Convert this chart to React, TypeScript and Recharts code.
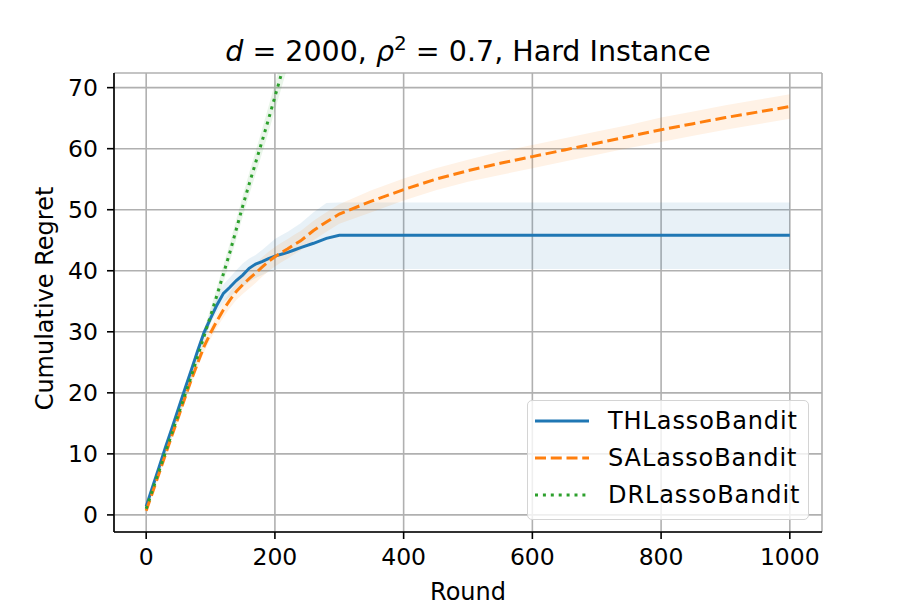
import {
  ComposedChart,
  Line,
  Area,
  XAxis,
  YAxis,
  CartesianGrid,
  Legend,
  Label,
} from "recharts";

const rounds = [
  0, 10, 20, 30, 40, 50, 60, 70, 80, 90, 100, 110, 120, 130, 140, 150, 160,
  170, 180, 190, 200, 210, 220, 230, 240, 260, 280, 300, 350, 400, 450, 500,
  550, 600, 650, 700, 750, 800, 850, 900, 950, 1000,
];

// THLassoBandit
const thMean = [
  1.4, 4.6, 7.8, 11.1, 14.2, 17.4, 20.6, 23.7, 26.9, 29.9, 32.2, 34.4, 36.3,
  37.3, 38.4, 39.3, 40.4, 41.1, 41.5, 42.0, 42.4, 42.7, 43.0, 43.4, 43.8, 44.5,
  45.3, 45.8, 45.8, 45.8, 45.8, 45.8, 45.8, 45.8, 45.8, 45.8, 45.8, 45.8, 45.8,
  45.8, 45.8, 45.8,
];
const thLow = [
  1.0, 4.2, 7.4, 10.7, 13.8, 17.0, 20.1, 23.2, 26.3, 29.2, 31.3, 33.2, 34.8,
  35.7, 36.6, 37.4, 38.2, 38.8, 39.3, 39.8, 40.2, 40.3, 40.3, 40.3, 40.3, 40.3,
  40.3, 40.3, 40.3, 40.3, 40.3, 40.3, 40.3, 40.3, 40.3, 40.3, 40.3, 40.3, 40.3,
  40.3, 40.3, 40.3,
];
const thHigh = [
  1.8, 5.0, 8.2, 11.5, 14.6, 17.8, 21.1, 24.2, 27.5, 30.6, 33.1, 35.6, 37.8,
  38.9, 40.1, 41.2, 42.0, 42.6, 43.4, 44.3, 45.2, 45.8, 46.4, 47.1, 47.8, 49.6,
  51.1, 51.2, 51.2, 51.2, 51.2, 51.2, 51.2, 51.2, 51.2, 51.2, 51.2, 51.2, 51.2,
  51.2, 51.2, 51.2,
];

// SALassoBandit
const saMean = [
  0.7, 3.7, 6.8, 9.9, 13.0, 16.0, 19.1, 22.1, 24.9, 27.6, 29.8, 31.8, 33.6,
  35.2, 36.6, 37.7, 38.7, 39.6, 40.6, 41.5, 42.3, 43.0, 43.6, 44.3, 44.9, 46.6,
  48.0, 49.3, 51.4, 53.3, 55.0, 56.4, 57.6, 58.7, 59.8, 60.9, 62.0, 63.1, 64.1,
  65.1, 66.0, 66.9,
];
const saLow = [
  0.5, 3.4, 6.5, 9.5, 12.6, 15.5, 18.5, 21.4, 24.1, 26.7, 28.8, 30.7, 32.4,
  33.9, 35.2, 36.2, 37.1, 38.0, 39.0, 39.9, 40.7, 41.4, 42.0, 42.7, 43.3, 45.0,
  46.4, 47.7, 49.6, 51.5, 53.2, 54.6, 55.7, 56.8, 57.9, 59.0, 60.1, 61.1, 62.1,
  63.1, 64.0, 64.9,
];
const saHigh = [
  0.9, 4.0, 7.1, 10.3, 13.4, 16.5, 19.7, 22.8, 25.7, 28.5, 30.8, 32.9, 34.8,
  36.5, 38.0, 39.2, 40.3, 41.2, 42.2, 43.1, 43.9, 44.6, 45.2, 45.9, 46.5, 48.2,
  49.6, 50.9, 53.2, 55.1, 56.8, 58.2, 59.5, 60.6, 61.7, 62.8, 63.9, 65.1, 66.1,
  67.1, 68.0, 68.9,
];

// DRLassoBandit (leaves the plot around round 210)
const drMean = [
  1.0, 4.1, 7.2, 10.3, 13.4, 16.5, 19.6, 22.7, 26.0, 29.3, 32.6, 36.0, 39.5,
  43.0, 46.8, 50.6, 54.2, 57.7, 61.2, 64.8, 68.5, 72.2, 75.9, 79.6,
];
const drLow = [
  0.8, 3.8, 6.8, 9.8, 12.8, 15.8, 18.8, 21.8, 25.0, 28.2, 31.4, 34.7, 38.1,
  41.5, 45.2, 48.9, 52.4, 55.8, 59.2, 62.7, 66.3, 69.9, 73.5, 77.1,
];
const drHigh = [
  1.2, 4.4, 7.6, 10.8, 14.0, 17.2, 20.4, 23.6, 27.0, 30.4, 33.8, 37.3, 40.9,
  44.5, 48.4, 52.3, 56.0, 59.6, 63.2, 66.9, 70.7, 74.5, 78.3, 82.1,
];

const xTicks = [0, 200, 400, 600, 800, 1000];
const yTicks = [0, 10, 20, 30, 40, 50, 60, 70];

const rows = rounds.map((r, i) => ({
  round: r,
  th: thMean[i],
  thBand: [thLow[i], thHigh[i]],
  sa: saMean[i],
  saBand: [saLow[i], saHigh[i]],
  dr: drMean[i] ?? null,
  drBand: drMean[i] == null ? null : [drLow[i], drHigh[i]],
}));

const SERIES = [
  { key: "th", name: "THLassoBandit", color: "#1f77b4", dash: undefined },
  { key: "sa", name: "SALassoBandit", color: "#ff7f0e", dash: "11 4.75" },
  { key: "dr", name: "DRLassoBandit", color: "#2ca02c", dash: "3 4.9" },
];

const FONT = "DejaVu Sans, sans-serif";
const X_DOMAIN = [-50, 1050];
const Y_DOMAIN = [-2.8, 72.4];

function LegendBox() {
  return (
    <div
      style={{
        border: "1.6px solid #d4d4d4",
        borderRadius: 5,
        background: "rgba(255,255,255,0.8)",
        width: 282,
        height: 120,
        padding: "1px 0 0 7px",
        boxSizing: "border-box",
        fontFamily: FONT,
        fontSize: 24,
        letterSpacing: 0.9,
        color: "#000",
      }}
    >
      {SERIES.map((s) => (
        <div
          key={s.key}
          style={{ display: "flex", alignItems: "center", height: 37 }}
        >
          <svg width={54} height={10} style={{ marginRight: 19 }}>
            <line
              x1={0}
              y1={5}
              x2={54}
              y2={5}
              stroke={s.color}
              strokeWidth={3}
              strokeDasharray={s.dash}
            />
          </svg>
          <span>{s.name}</span>
        </div>
      ))}
    </div>
  );
}

export default function App() {
  const tickStyle = { fill: "#000", fontSize: 23.5, fontFamily: FONT };
  return (
    <div
      style={{
        position: "absolute",
        left: 0,
        top: 0,
        width: 913,
        height: 609,
        background: "#fff",
      }}
    >
      <svg
        width={913}
        height={70}
        style={{ position: "absolute", left: 0, top: 0 }}
      >
        <text
          x={468}
          y={61}
          textAnchor="middle"
          fontFamily={FONT}
          fontSize={28.5}
          fill="#000"
        >
          <tspan fontStyle="italic">d</tspan>
          <tspan> = 2000, </tspan>
          <tspan fontStyle="italic">ρ</tspan>
          <tspan dy={-11} fontSize={20}>
            2
          </tspan>
          <tspan dy={11}> = 0.7, Hard Instance</tspan>
        </text>
      </svg>
      <ComposedChart
        width={913}
        height={609}
        data={rows}
        margin={{ top: 73, right: 91, bottom: 0, left: 0 }}
        style={{ position: "absolute", left: 0, top: 0 }}
      >
        <CartesianGrid stroke="#b0b0b0" strokeWidth={1.6} />
        <XAxis
          dataKey="round"
          type="number"
          domain={X_DOMAIN}
          ticks={xTicks}
          height={77}
          tick={tickStyle}
          tickSize={7}
          tickMargin={9}
          tickLine={{ stroke: "#000", strokeWidth: 1.6 }}
          axisLine={{ stroke: "#000", strokeWidth: 1.6 }}
        >
          <Label
            value="Round"
            position="insideBottom"
            offset={9}
            style={{ fill: "#000", fontSize: 24, fontFamily: FONT }}
          />
        </XAxis>
        <XAxis
          xAxisId="top"
          orientation="top"
          dataKey="round"
          type="number"
          domain={X_DOMAIN}
          height={0}
          tick={false}
          tickLine={false}
          axisLine={{ stroke: "#000", strokeWidth: 1.6 }}
        />
        <YAxis
          type="number"
          domain={Y_DOMAIN}
          ticks={yTicks}
          allowDataOverflow
          width={114}
          tick={tickStyle}
          tickSize={7}
          tickMargin={9}
          tickLine={{ stroke: "#000", strokeWidth: 1.6 }}
          axisLine={{ stroke: "#000", strokeWidth: 1.6 }}
        >
          <Label
            content={(props: any) => {
              const vb = props.viewBox || { x: 0, y: 73, height: 459 };
              const cx = vb.x + 53;
              const cy = vb.y + vb.height / 2 - 4;
              return (
                <text
                  x={cx}
                  y={cy}
                  transform={`rotate(-90, ${cx}, ${cy})`}
                  textAnchor="middle"
                  fontFamily={FONT}
                  fontSize={24}
                  fill="#000"
                >
                  Cumulative Regret
                </text>
              );
            }}
          />
        </YAxis>
        <YAxis
          yAxisId="right"
          orientation="right"
          type="number"
          domain={Y_DOMAIN}
          width={0}
          tick={false}
          tickLine={false}
          axisLine={{ stroke: "#000", strokeWidth: 1.6 }}
        />
        {SERIES.map((s) => (
          <Area
            key={`${s.key}-band`}
            dataKey={`${s.key}Band`}
            type="linear"
            stroke="none"
            fill={s.color}
            fillOpacity={0.1}
            legendType="none"
            isAnimationActive={false}
            activeDot={false}
          />
        ))}
        {SERIES.map((s) => (
          <Line
            key={s.key}
            dataKey={s.key}
            name={s.name}
            type="linear"
            stroke={s.color}
            strokeWidth={3}
            strokeDasharray={s.dash}
            dot={false}
            activeDot={false}
            isAnimationActive={false}
          />
        ))}
        <Legend
          layout="vertical"
          align="center"
          verticalAlign="middle"
          content={() => <LegendBox />}
          wrapperStyle={{ left: 527, top: 400, width: 282, height: 120 }}
        />
      </ComposedChart>
    </div>
  );
}
